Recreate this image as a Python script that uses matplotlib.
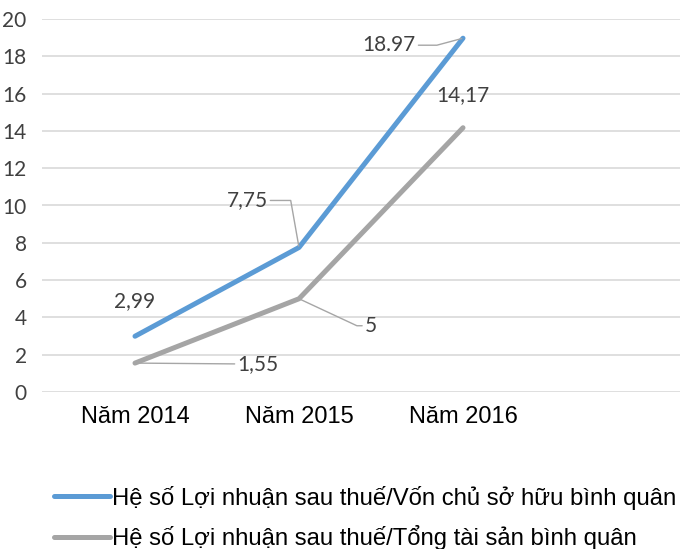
import matplotlib
matplotlib.use("Agg")
import matplotlib.pyplot as plt

years = ["Năm 2014", "Năm 2015", "Năm 2016"]
roe = [2.99, 7.75, 18.97]
roa = [1.55, 5, 14.17]
roe_labels = ["2,99", "7,75", "18.97"]
roa_labels = ["1,55", "5", "14,17"]
series_names = ["Hệ số Lợi nhuận sau thuế/Vốn chủ sở hữu bình quân",
                "Hệ số Lợi nhuận sau thuế/Tổng tài sản bình quân"]
yticks = list(range(0, 21, 2))

blue = "#5B9BD5"
gray = "#A5A5A5"
lbl_color = "#404040"

fig = plt.figure(figsize=(6.8, 5.49), dpi=100)
ax = fig.add_axes([42 / 680, 157 / 549, 1 - 42 / 680, 373 / 549])

x = list(range(len(years)))
l1, = ax.plot(x, roe, color=blue, lw=3.6, solid_capstyle="round", zorder=3)
l2, = ax.plot(x, roa, color=gray, lw=3.6, solid_capstyle="round", zorder=3)

ax.set_ylim(0, 20)
ax.set_xlim(-93 / 164, (680 - 135) / 164)
ax.set_yticks(yticks)
ax.set_yticklabels([str(t) for t in yticks], family="Lato", fontsize=15, color=lbl_color)
ax.set_xticks(x)
ax.set_xticklabels(years, family="Liberation Sans", fontsize=17, color="black")
ax.tick_params(length=0)
ax.tick_params(axis="y", pad=11)
ax.tick_params(axis="x", pad=10)
ax.grid(axis="y", color="#D9D9D9", lw=1.2)
ax.set_axisbelow(True)
for s in ax.spines.values():
    s.set_visible(False)

lead = dict(arrowstyle="-", color="#A6A6A6", lw=1, shrinkA=0, shrinkB=1)
txt = dict(family="Lato", fontsize=15, color=lbl_color, ha="center", va="center",
           textcoords="offset pixels", annotation_clip=False)

# labels for ROE line
ax.annotate(roe_labels[0], (x[0], roe[0]), xytext=(0, 35), **txt)
ax.annotate(roe_labels[1], (x[1], roe[1]), xytext=(-52, 47),
            arrowprops=dict(connectionstyle="angle,angleA=0,angleB=100,rad=0", **lead), **txt)
ax.annotate(roe_labels[2], (x[2], roe[2]), xytext=(-74, -7),
            arrowprops=dict(connectionstyle="angle,angleA=0,angleB=15,rad=0", **lead), **txt)

# labels for ROA line
ax.annotate(roa_labels[0], (x[0], roa[0]), xytext=(123, -1),
            arrowprops=dict(connectionstyle="arc3", **lead), **txt)
ax.annotate(roa_labels[1], (x[1], roa[1]), xytext=(72, -27),
            arrowprops=dict(connectionstyle="angle,angleA=0,angleB=155,rad=0", **lead), **txt)
ax.annotate(roa_labels[2], (x[2], roa[2]), xytext=(0, 33), **txt)

leg = fig.legend([l1, l2], series_names, loc="upper left", bbox_to_anchor=(44 / 680, 1 - 476 / 549),
                 frameon=False, handlelength=2.35, handletextpad=0.1, labelspacing=0.66,
                 borderaxespad=0, prop={"family": "Liberation Sans", "size": 17.2})

fig.savefig("out.png", dpi=100)
